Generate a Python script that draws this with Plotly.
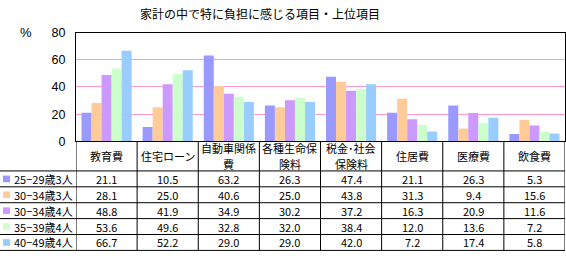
import plotly.graph_objects as go

categories = ["教育費", "住宅ローン", "自動車関係費", "各種生命保険料", "税金・社会保険料", "住居費", "医療費", "飲食費"]
header_lines = [["教育費"], ["住宅ローン"], ["自動車関係", "費"], ["各種生命保", "険料"],
                ["税金･社会", "保険料"], ["住居費"], ["医療費"], ["飲食費"]]
series_names = ["25−29歳3人", "30−34歳3人", "30−34歳4人", "35−39歳4人", "40−49歳4人"]
s1 = [21.1, 10.5, 63.2, 26.3, 47.4, 21.1, 26.3, 5.3]
s2 = [28.1, 25.0, 40.6, 25.0, 43.8, 31.3, 9.4, 15.6]
s3 = [48.8, 41.9, 34.9, 30.2, 37.2, 16.3, 20.9, 11.6]
s4 = [53.6, 49.6, 32.8, 32.0, 38.4, 12.0, 13.6, 7.2]
s5 = [66.7, 52.2, 29.0, 29.0, 42.0, 7.2, 17.4, 5.8]
series_values = [s1, s2, s3, s4, s5]
colors = ["#9999FF", "#FFCC99", "#CC99FF", "#CCFFCC", "#99CCFF"]
y_ticks = [0, 20, 40, 60, 80]

W, H = 566, 259
FONT = "Noto Sans CJK JP"

def px(x):
    return x / W

def py(y):
    return 1 - y / H

plot_left, plot_right, plot_top, plot_bottom = 76, 565, 27, 142

fig = go.Figure()
for name, vals, c in zip(series_names, series_values, colors):
    fig.add_trace(go.Bar(x=list(range(len(categories))), y=vals, name=name,
                         marker=dict(color=c, line=dict(width=0))))

fig.update_layout(
    width=W, height=H,
    margin=dict(l=0, r=0, t=0, b=0),
    paper_bgcolor="white", plot_bgcolor="white",
    showlegend=False,
    barmode="group", bargap=0.18, bargroupgap=0,
    font=dict(family=FONT, size=11, color="black"),
    xaxis=dict(domain=[px(plot_left), px(plot_right)], range=[-0.5, len(categories) - 0.5],
               showticklabels=False, showgrid=False, zeroline=False,
               showline=True, linecolor="black", linewidth=1, mirror=True, ticks=""),
    yaxis=dict(domain=[py(plot_bottom), py(plot_top)], range=[0, 80],
               tickvals=y_ticks, ticktext=[str(v) for v in y_ticks],
               showgrid=True, gridcolor="#FF99CC", gridwidth=1, zeroline=False,
               showline=True, linecolor="black", linewidth=1, mirror=True, ticks=""),
)
fig.update_yaxes(ticklabelstandoff=7, tickfont=dict(size=12.5, family="Liberation Sans"))

shapes = []
header_top = plot_bottom
row_tops = [173.3 + i * 16.8 for i in range(6)]
table_bottom = row_tops[-1]
for y in row_tops:
    shapes.append(dict(type="line", xref="paper", yref="paper", x0=0, x1=px(plot_right),
                       y0=py(y), y1=py(y), line=dict(color="black", width=1)))
for i in range(len(categories) + 1):
    shapes.append(dict(type="line", xref="x", yref="paper", x0=i - 0.5, x1=i - 0.5,
                       y0=py(header_top), y1=py(table_bottom), line=dict(color="black", width=1)))

annotations = []
annotations.append(dict(text="家計の中で特に負担に感じる項目・上位項目", x=px(260), y=py(7),
                        xref="paper", yref="paper", showarrow=False,
                        font=dict(size=12, family=FONT), xanchor="center", yanchor="middle"))
annotations.append(dict(text="%", x=px(26), y=py(27), xref="paper", yref="paper", showarrow=False,
                        font=dict(size=13, family="Liberation Sans"), xanchor="center", yanchor="middle"))
for i, lines in enumerate(header_lines):
    ys = [158] if len(lines) == 1 else [149.5, 165.5]
    for txt, yy in zip(lines, ys):
        annotations.append(dict(text=txt, x=i, y=py(yy), xref="x", yref="paper",
                                showarrow=False, font=dict(size=11, family=FONT),
                                xanchor="center", yanchor="middle", borderpad=0))
for r, (name, vals, c) in enumerate(zip(series_names, series_values, colors)):
    ymid = (row_tops[r] + row_tops[r + 1]) / 2
    shapes.append(dict(type="rect", xref="paper", yref="paper", x0=px(3), x1=px(10),
                       y0=py(ymid + 3.5), y1=py(ymid - 3.5), fillcolor=c, line=dict(width=0)))
    annotations.append(dict(text=name, x=px(12), y=py(ymid), xref="paper", yref="paper",
                            showarrow=False, font=dict(size=11, family=FONT),
                            xanchor="left", yanchor="middle"))
    for i, v in enumerate(vals):
        annotations.append(dict(text=f"{v:.1f}", x=i, y=py(ymid), xref="x", yref="paper",
                                showarrow=False, font=dict(size=11, family=FONT),
                                xanchor="center", yanchor="middle"))

fig.update_layout(shapes=shapes, annotations=annotations)
fig.write_html("out.html")
